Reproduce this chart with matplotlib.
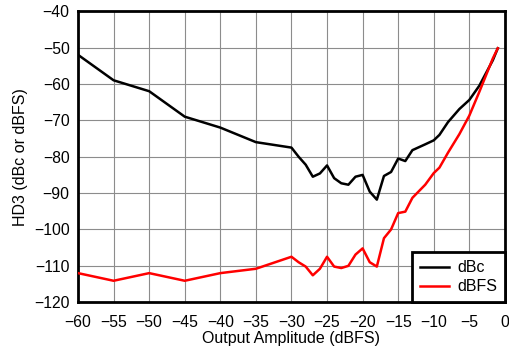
import matplotlib.pyplot as plt

plt.rcParams["font.family"] = ["Liberation Sans", "DejaVu Sans"]

# Output amplitude (dBFS) and HD3 readings
amp = [-60, -55, -50, -45, -40, -35, -30, -29, -28, -27, -26, -25, -24, -23, -22, -21,
       -20, -19, -18, -17, -16, -15, -14, -13, -11.2, -10, -9.2, -8, -6.4, -5, -3.6,
       -1.7, -1]
hd3_dbc = [-52, -59, -62, -69, -72, -76, -77.5, -80, -82.2, -85.5, -84.6, -82.4,
           -85.9, -87.3, -87.7, -85.5, -85, -89.6, -91.8, -85.3, -84.2, -80.5, -81.2,
           -78.2, -76.6, -75.5, -74, -70.5, -66.9, -64.4, -60.5, -53.5, -50.2]
hd3_dbfs = [-112, -114.1, -112, -114.1, -112, -110.8, -107.5, -109, -110.2, -112.6,
            -110.8, -107.5, -110.2, -110.6, -110, -106.9, -105.2, -109, -110.2, -102.4,
            -100, -95.5, -95.1, -91.3, -87.7, -84.5, -83, -78.9, -73.8, -68.7, -62.2,
            -53, -50.2]

fig = plt.figure(figsize=(5.10, 3.49), dpi=100)
ax = fig.add_axes([0.153, 0.134, 0.837, 0.834])

ax.plot(amp, hd3_dbc, color="black", lw=1.8, label="dBc", zorder=3)
ax.plot(amp, hd3_dbfs, color="#ff0000", lw=1.8, label="dBFS", zorder=3)

ax.set_xlim(-60, 0)
ax.set_ylim(-120, -40)
ax.set_xticks(range(-60, 1, 5))
ax.set_yticks(range(-120, -39, 10))
ax.grid(True, color="#8c8c8c", lw=0.8)
ax.tick_params(length=0, labelsize=11.3)
ax.tick_params(axis="x", pad=9)
ax.tick_params(axis="y", pad=6)
for s in ax.spines.values():
    s.set_linewidth(2)

ax.set_xlabel("Output Amplitude (dBFS)", fontsize=11.5, labelpad=1)
ax.set_ylabel("HD3 (dBc or dBFS)", fontsize=11.5, labelpad=4)

leg = ax.legend(loc="lower right", fontsize=11.5, fancybox=False, framealpha=1,
                edgecolor="black", borderaxespad=0, handlelength=1.8,
                handletextpad=0.5, borderpad=0.5, labelspacing=0.25)
leg.get_frame().set_linewidth(2)

fig.savefig("out.png", dpi=100)
